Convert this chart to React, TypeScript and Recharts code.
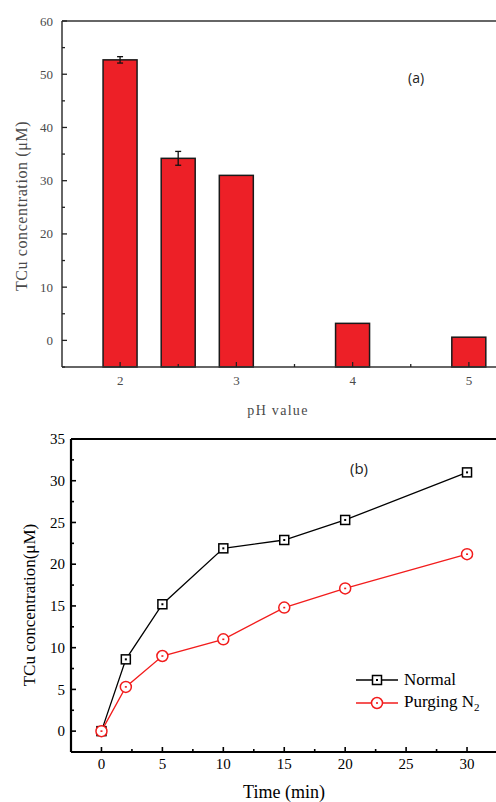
import React from "react";
import { ComposedChart, Bar, XAxis, YAxis, ReferenceLine, LineChart, Line, Legend, Label } from "recharts";

// (a) TCu vs pH
const phValues = [2, 2.5, 3, 4, 5];
const tcuByPh = [52.7, 34.2, 31.0, 3.2, 0.6];
const tcuErr = [0.6, 1.3, 0, 0, 0];
const phTicks = [2, 2.5, 3, 3.5, 4, 4.5, 5];
const phLabels = [2, 3, 4, 5];
const concTicksA = [-5, 0, 5, 10, 15, 20, 25, 30, 35, 40, 45, 50, 55, 60];
const concLabelsA = [0, 10, 20, 30, 40, 50, 60];

// (b) TCu vs time
const times = [0, 2, 5, 10, 15, 20, 30];
const normal = [0, 8.6, 15.2, 21.9, 22.9, 25.3, 31.0];
const purging = [0, 5.3, 9.0, 11.0, 14.8, 17.1, 21.2];
const timeTicks = [0, 2.5, 5, 7.5, 10, 12.5, 15, 17.5, 20, 22.5, 25, 27.5, 30];
const timeLabels = [0, 5, 10, 15, 20, 25, 30];
const concTicksB = [0, 2.5, 5, 7.5, 10, 12.5, 15, 17.5, 20, 22.5, 25, 27.5, 30, 32.5, 35];
const concLabelsB = [0, 5, 10, 15, 20, 25, 30, 35];

const Y_MIN_A = -5;

const barData = phValues.map((ph, i) => ({ ph, range: [Y_MIN_A, tcuByPh[i]], value: tcuByPh[i], err: tcuErr[i] }));
const lineData = times.map((t, i) => ({ t, normal: normal[i], purging: purging[i] }));

const serifA = "'Liberation Serif', serif";
const greyA = "#4a4a4a";
const times_ = "'Liberation Serif', 'Times New Roman', serif";

function yTick(labels: number[], margin: number, style: any, stroke: string, sw: number) {
  return (props: any) => {
    const { x, y, payload } = props;
    const ax = x + margin;
    const major = labels.includes(payload.value);
    return (
      <g>
        <line x1={ax} x2={ax + (major ? 5 : 3)} y1={y} y2={y} stroke={stroke} strokeWidth={sw} />
        {major && (
          <text x={x} y={y} dy="0.35em" textAnchor="end" {...style}>{payload.value}</text>
        )}
      </g>
    );
  };
}

function xTick(labels: number[], margin: number, style: any, stroke: string, sw: number) {
  return (props: any) => {
    const { x, y, payload } = props;
    const ay = y - margin;
    const major = labels.includes(payload.value);
    return (
      <g>
        <line x1={x} x2={x} y1={ay} y2={ay - (major ? 5 : 3)} stroke={stroke} strokeWidth={sw} />
        {major && (
          <text x={x} y={y} dy="0.75em" textAnchor="middle" {...style}>{payload.value}</text>
        )}
      </g>
    );
  };
}

function BarWithError(props: any) {
  const { x, y, width, height, payload } = props;
  const pxPerUnit = height / (payload.value - Y_MIN_A);
  const cx = x + width / 2;
  const e = payload.err * pxPerUnit;
  return (
    <g>
      <rect x={x} y={y} width={width} height={height} fill="#ed2027" stroke="#1a1a1a" strokeWidth={1.5} />
      {payload.err > 0 && (
        <g stroke="#111" strokeWidth={1.3}>
          <line x1={cx} x2={cx} y1={y - e} y2={y + e} />
          <line x1={cx - 3} x2={cx + 3} y1={y - e} y2={y - e} />
          <line x1={cx - 3} x2={cx + 3} y1={y + e} y2={y + e} />
        </g>
      )}
    </g>
  );
}

function SquareDot(props: any) {
  const { cx, cy } = props;
  return (
    <g>
      <rect x={cx - 4.5} y={cy - 4.5} width={9} height={9} fill="white" stroke="#000" strokeWidth={1.5} />
      <rect x={cx - 1} y={cy - 1} width={2} height={2} fill="#000" />
    </g>
  );
}

function CircleDot(props: any) {
  const { cx, cy } = props;
  return (
    <g>
      <circle cx={cx} cy={cy} r={5.5} fill="white" stroke="#f21c1c" strokeWidth={1.5} />
      <rect x={cx - 1} y={cy - 0.8} width={2} height={1.6} fill="#f21c1c" />
    </g>
  );
}

function LegendContent() {
  const rows = [
    { key: "normal", color: "#000", label: <>Normal</> },
    { key: "purging", color: "#f21c1c", label: <>Purging N<sub style={{ fontSize: 11 }}>2</sub></> },
  ];
  return (
    <div style={{ fontFamily: times_, fontSize: 17, color: "#000" }}>
      {rows.map((r) => (
        <div key={r.key} style={{ display: "flex", alignItems: "center", height: 23 }}>
          <svg width={46} height={16} style={{ marginRight: 2 }}>
            <line x1={0} x2={42} y1={8} y2={8} stroke={r.color} strokeWidth={1.5} />
            {r.key === "normal" ? <SquareDot cx={21} cy={8} /> : <CircleDot cx={21} cy={8} />}
          </svg>
          <span>{r.label}</span>
        </div>
      ))}
    </div>
  );
}

const overlay: React.CSSProperties = { position: "absolute", whiteSpace: "nowrap" };

export default function App() {
  const tickStyleA = { fontFamily: serifA, fontSize: 13, fill: greyA };
  const tickStyleB = { fontFamily: times_, fontSize: 15, fill: "#000" };
  return (
    <div style={{ position: "relative", width: 496, height: 802, overflow: "hidden", background: "white" }}>
      <style>{"body{margin:0}"}</style>

      {/* (a) */}
      <div style={{ position: "absolute", left: 0, top: 0 }}>
        <ComposedChart width={560} height={425} data={barData} margin={{ top: 21, right: 33, left: 0, bottom: 0 }}>
          <XAxis
            dataKey="ph"
            type="number"
            domain={[1.5, 5.5]}
            ticks={phTicks}
            interval={0}
            height={58}
            tickSize={0}
            tickMargin={8}
            tickLine={false}
            axisLine={{ stroke: "#333", strokeWidth: 1.5 }}
            tick={xTick(phLabels, 8, tickStyleA, "#222", 1.3)}
          >
            <Label
              content={() => (
                <text x={278} y={415} textAnchor="middle" fontFamily={serifA} fontSize={14} fontWeight="normal" letterSpacing={1.3} fill={greyA}>
                  pH value
                </text>
              )}
            />
          </XAxis>
          <YAxis
            type="number"
            domain={[-5, 60]}
            ticks={concTicksA}
            interval={0}
            width={62}
            tickSize={0}
            tickMargin={9}
            tickLine={false}
            axisLine={{ stroke: "#333", strokeWidth: 1.5 }}
            tick={yTick(concLabelsA, 9, tickStyleA, "#222", 1.3)}
          >
            <Label
              content={() => (
                <text
                  x={21}
                  y={206}
                  transform="rotate(-90 21 206)"
                  textAnchor="middle"
                  dy="0.35em"
                  fontFamily={serifA}
                  fontSize={16}
                  fontWeight="normal"
                  letterSpacing={0.6}
                  fill={greyA}
                >
                  TCu concentration (μM)
                </text>
              )}
            />
          </YAxis>
          <ReferenceLine y={60} stroke="#333" strokeWidth={1.5} />
          <ReferenceLine x={5.5} stroke="#333" strokeWidth={1.5} />
          <Bar dataKey="range" barSize={34} isAnimationActive={false} shape={BarWithError} />
        </ComposedChart>
      </div>
      <div style={{ ...overlay, left: 408, top: 68, fontFamily: "'Open Sans', sans-serif", fontSize: 14, color: "#222" }}>
        (a)
      </div>

      {/* (b) */}
      <div style={{ position: "absolute", left: 0, top: 400 }}>
        <LineChart width={510} height={402} data={lineData} margin={{ top: 39, right: 12.5, left: 0, bottom: 0 }}>
          <XAxis
            dataKey="t"
            type="number"
            domain={[-2.5, 32.5]}
            ticks={timeTicks}
            interval={0}
            height={50}
            tickSize={0}
            tickMargin={6}
            tickLine={false}
            axisLine={{ stroke: "#000", strokeWidth: 2.2 }}
            tick={xTick(timeLabels, 6, tickStyleB, "#000", 1.6)}
          />
          <YAxis
            type="number"
            domain={[-2.5, 35]}
            ticks={concTicksB}
            interval={0}
            width={71}
            tickSize={0}
            tickMargin={6}
            tickLine={false}
            axisLine={{ stroke: "#000", strokeWidth: 2.2 }}
            tick={yTick(concLabelsB, 6, tickStyleB, "#000", 1.6)}
          />
          <ReferenceLine y={35} stroke="#000" strokeWidth={2.2} />
          <ReferenceLine x={32.5} stroke="#000" strokeWidth={2.2} />
          <Legend
            layout="horizontal"
            verticalAlign="middle"
            align="center"
            wrapperStyle={{ left: 356, top: 268, width: 150 }}
            content={() => <LegendContent />}
          />
          <Line dataKey="normal" name="Normal" stroke="#000" strokeWidth={1.3} dot={SquareDot} isAnimationActive={false} />
          <Line dataKey="purging" name="Purging N2" stroke="#f21c1c" strokeWidth={1.3} dot={CircleDot} isAnimationActive={false} />
        </LineChart>
      </div>
      <div style={{ ...overlay, left: 350, top: 458, fontFamily: "'Open Sans', sans-serif", fontSize: 15, color: "#222" }}>
        (b)
      </div>
      <div style={{ ...overlay, left: 284, top: 792, transform: "translate(-50%, -50%)", fontFamily: times_, fontSize: 18, color: "#000" }}>
        Time (min)
      </div>
      <div
        style={{
          ...overlay,
          left: 30,
          top: 605,
          transform: "translate(-50%, -50%) rotate(-90deg)",
          fontFamily: times_,
          fontSize: 17,
          color: "#000",
        }}
      >
        TCu concentration(μM)
      </div>
    </div>
  );
}
